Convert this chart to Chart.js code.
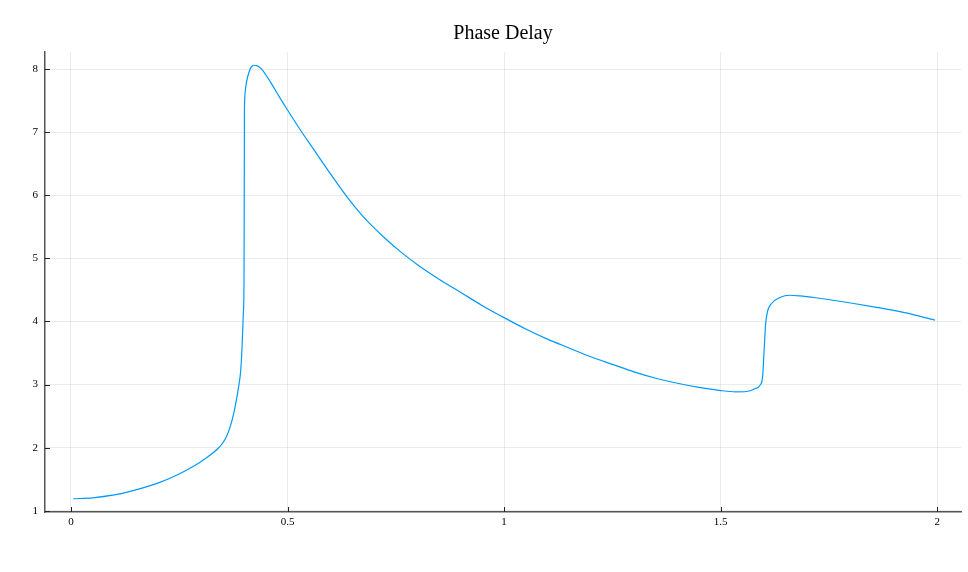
<!DOCTYPE html>
<html>
<head>
<meta charset="utf-8">
<script src="https://cdn.jsdelivr.net/npm/chart.js@4"></script>
<style>
  body { margin: 0; background: #fff; }
  #wrap { width: 968px; height: 572px; }
</style>
</head>
<body>
<div id="wrap"><canvas id="chart" width="968" height="572"></canvas></div>
<script>
// frequency values (x) and phase delay (y)
const freq = [0.005, 0.05, 0.1, 0.13, 0.17, 0.205, 0.24, 0.282, 0.313, 0.34,
  0.35, 0.36, 0.368, 0.375, 0.381, 0.386, 0.392, 0.395, 0.398, 0.3995,
  0.4, 0.4005, 0.401, 0.402, 0.404, 0.407, 0.411, 0.416, 0.422, 0.43,
  0.44, 0.46, 0.48, 0.5, 0.53, 0.56, 0.6, 0.64, 0.68, 0.72,
  0.76, 0.8, 0.85, 0.9, 0.95, 1.0, 1.05, 1.1, 1.15, 1.2,
  1.25, 1.3, 1.35, 1.4, 1.45, 1.5, 1.535, 1.56, 1.578, 1.591,
  1.597, 1.6, 1.602, 1.604, 1.608, 1.617, 1.637, 1.66, 1.683, 1.72,
  1.775, 1.85, 1.925, 1.995];
const delay = [1.19, 1.205, 1.25, 1.295, 1.37, 1.45, 1.55, 1.7, 1.84, 1.99,
  2.07, 2.19, 2.34, 2.52, 2.72, 2.92, 3.23, 3.6, 4.13, 4.65,
  5.9, 7.3, 7.5, 7.62, 7.74, 7.85, 7.95, 8.03, 8.06, 8.05,
  8.0, 7.8, 7.57, 7.35, 7.03, 6.73, 6.33, 5.95, 5.62, 5.35,
  5.11, 4.9, 4.67, 4.46, 4.25, 4.06, 3.88, 3.72, 3.58, 3.44,
  3.32, 3.2, 3.1, 3.02, 2.955, 2.905, 2.885, 2.89, 2.93, 2.99,
  3.13, 3.49, 3.75, 3.97, 4.15, 4.28, 4.38, 4.415, 4.405, 4.375,
  4.32, 4.235, 4.14, 4.02];

const xTicks = [0, 0.5, 1, 1.5, 2];
const yTicks = [1, 2, 3, 4, 5, 6, 7, 8];
const titleText = 'Phase Delay';

const serif = "'Liberation Serif', 'DejaVu Serif', serif";
const tickFont = { family: serif, size: 11 };

// title centred over the plot area, not the whole canvas
const plotTitle = {
  id: 'plotTitle',
  afterDraw(chart) {
    const { ctx, chartArea } = chart;
    ctx.save();
    ctx.fillStyle = '#000';
    ctx.font = `20px ${serif}`;
    ctx.textAlign = 'center';
    ctx.textBaseline = 'middle';
    ctx.fillText(titleText, (chartArea.left + chartArea.right) / 2, 34);
    ctx.restore();
  }
};

// short inward tick marks like the original plot
const innerTicks = {
  id: 'innerTicks',
  afterDraw(chart) {
    const { ctx, chartArea, scales } = chart;
    ctx.save();
    ctx.strokeStyle = '#222';
    ctx.lineWidth = 1;
    ctx.beginPath();
    xTicks.forEach(v => {
      const px = Math.round(scales.x.getPixelForValue(v)) + 0.5;
      ctx.moveTo(px, chartArea.bottom);
      ctx.lineTo(px, chartArea.bottom - 5);
    });
    yTicks.forEach(v => {
      const py = Math.round(scales.y.getPixelForValue(v)) + 0.5;
      ctx.moveTo(chartArea.left, py);
      ctx.lineTo(chartArea.left + 5, py);
    });
    ctx.stroke();
    ctx.restore();
  }
};

const points = freq.map((f, i) => ({ x: f, y: delay[i] }));

new Chart(document.getElementById('chart'), {
  type: 'line',
  data: {
    datasets: [{
      data: points,
      borderColor: '#009AFA',
      borderWidth: 1.2,
      pointRadius: 0,
      fill: false,
      cubicInterpolationMode: 'monotone'
    }]
  },
  options: {
    responsive: false,
    animation: false,
    layout: { padding: { left: 0, right: 7, top: 52, bottom: 0 } },
    plugins: {
      legend: { display: false },
      tooltip: { enabled: false },
      title: { display: false }
    },
    scales: {
      x: {
        type: 'linear',
        min: -0.06,
        max: 2.055,
        afterBuildTicks: s => { s.ticks = xTicks.map(v => ({ value: v })); },
        afterFit: s => { s.height = 60; },
        ticks: {
          color: '#000',
          font: tickFont,
          padding: 4,
          maxRotation: 0,
          callback: v => String(v)
        },
        grid: { color: 'rgba(0,0,0,0.08)', drawTicks: false },
        border: { color: '#555', width: 1.5 }
      },
      y: {
        type: 'linear',
        min: 0.98,
        max: 8.27,
        afterBuildTicks: s => { s.ticks = yTicks.map(v => ({ value: v })); },
        afterFit: s => { s.width = 45; },
        ticks: {
          color: '#000',
          font: tickFont,
          padding: 7,
          callback: v => String(v)
        },
        grid: { color: 'rgba(0,0,0,0.08)', drawTicks: false },
        border: { color: '#555', width: 1.5 }
      }
    }
  },
  plugins: [innerTicks, plotTitle]
});
</script>
</body>
</html>
